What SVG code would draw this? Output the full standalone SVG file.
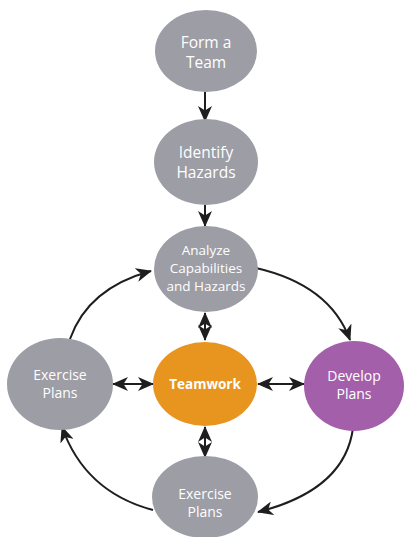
<svg xmlns="http://www.w3.org/2000/svg" width="404" height="537" viewBox="0 0 404 537">
  <style>
    .node { fill: #9c9da5; }
    .team { fill: #e8951f; }
    .dev { fill: #a45fab; }
    .lbl { font-family: "Open Sans", "Liberation Sans", sans-serif; fill: #ffffff; text-anchor: middle; }
    .big { font-size: 15.5px; }
    .mid { font-size: 14px; }
    .sm { font-size: 13.5px; }
    .conn { fill: none; stroke: #1e1e1e; stroke-width: 2; }
  </style>
  <defs>
    <marker id="head" viewBox="0 0 16 14" refX="15" refY="7" markerWidth="16" markerHeight="14" markerUnits="userSpaceOnUse" orient="auto-start-reverse">
      <path d="M0,0 L16,7 L0,14 L4.5,7 Z" fill="#1e1e1e"/>
    </marker>
  </defs>
  <rect width="404" height="537" fill="#ffffff"/>

  <g id="connectors">
    <path class="conn" d="M205,92 L205,121" marker-end="url(#head)"/>
    <path class="conn" d="M205,205 L205,226" marker-end="url(#head)"/>
    <path class="conn" d="M205,313 L205,340" marker-start="url(#head)" marker-end="url(#head)"/>
    <path class="conn" d="M205,427 L205,457" marker-start="url(#head)" marker-end="url(#head)"/>
    <path class="conn" d="M113,384 L153,384" marker-start="url(#head)" marker-end="url(#head)"/>
    <path class="conn" d="M258,384 L304,384" marker-start="url(#head)" marker-end="url(#head)"/>
    <path class="conn" d="M70,339 Q88,288 151,271" marker-end="url(#head)"/>
    <path class="conn" d="M256,268 Q330,285 350,340" marker-end="url(#head)"/>
    <path class="conn" d="M353,428 Q345,490 258,512" marker-end="url(#head)"/>
    <path class="conn" d="M153,510 Q85,492 62,427" marker-end="url(#head)"/>
  </g>

  <g id="form-team">
    <ellipse class="node" cx="206" cy="51" rx="51" ry="41"/>
    <text class="lbl big" x="206" y="48">Form a</text>
    <text class="lbl big" x="206" y="68">Team</text>
  </g>
  <g id="identify-hazards">
    <ellipse class="node" cx="206" cy="162" rx="52" ry="43"/>
    <text class="lbl big" x="206" y="158">Identify</text>
    <text class="lbl big" x="206" y="178">Hazards</text>
  </g>
  <g id="analyze">
    <ellipse class="node" cx="206" cy="269" rx="52" ry="43"/>
    <text class="lbl sm" x="206" y="255">Analyze</text>
    <text class="lbl sm" x="206" y="273">Capabilities</text>
    <text class="lbl sm" x="206" y="291">and Hazards</text>
  </g>
  <g id="teamwork">
    <ellipse class="team" cx="205" cy="384" rx="52" ry="42"/>
    <text class="lbl" x="205" y="389" font-size="13.5" font-weight="bold">Teamwork</text>
  </g>
  <g id="exercise-left">
    <ellipse class="node" cx="60" cy="384" rx="53" ry="46"/>
    <text class="lbl mid" x="60" y="380">Exercise</text>
    <text class="lbl mid" x="60" y="398">Plans</text>
  </g>
  <g id="develop-plans">
    <ellipse class="dev" cx="354" cy="386" rx="50" ry="45"/>
    <text class="lbl mid" x="354" y="381">Develop</text>
    <text class="lbl mid" x="354" y="399">Plans</text>
  </g>
  <g id="exercise-bottom">
    <ellipse class="node" cx="205" cy="497" rx="53" ry="41"/>
    <text class="lbl mid" x="205" y="499">Exercise</text>
    <text class="lbl mid" x="205" y="517">Plans</text>
  </g>
</svg>
